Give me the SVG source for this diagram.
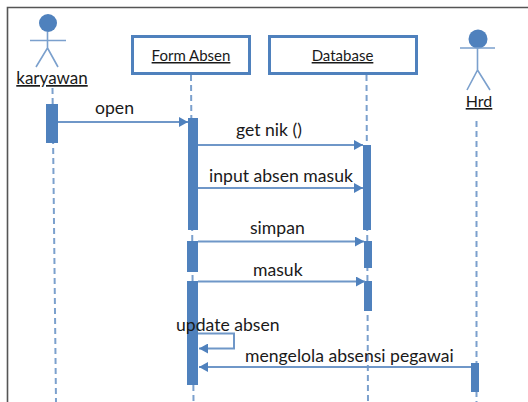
<svg xmlns="http://www.w3.org/2000/svg" width="528" height="402" viewBox="0 0 528 402">
<style>
text{font-family:Lato,Carlito,"Open Sans",sans-serif;fill:#1a1a1a}
.l{font-size:17.6px}
.h{font-size:15px;text-decoration:underline;text-anchor:middle}
.a{font-size:17px;text-decoration:underline;text-anchor:middle}
.box{fill:#fff;stroke:#4f81bd;stroke-width:3}
.ln{stroke:#7ba0cd;stroke-width:2;stroke-dasharray:6 4;fill:none}
.act{fill:#4f81bd}
.st{stroke:#7ba0cd;stroke-width:1.6;fill:none}
.msg{stroke:#6f97c8;stroke-width:2;fill:none;marker-end:url(#ah)}
</style>
<defs><marker id="ah" markerUnits="userSpaceOnUse" markerWidth="10" markerHeight="10" refX="9" refY="5" orient="auto"><path d="M0,0L9,5L0,10Z" fill="#4f81bd"/></marker></defs>
<path d="M7.5,402V7.5H528" fill="none" stroke="#555" stroke-width="1.6"/>
<g id="lifelines">
<path class="ln" d="M52.5,88L56,402"/>
<path class="ln" d="M191,75L193.5,402"/>
<path class="ln" d="M366.5,75L368,402"/>
<path class="ln" d="M476.5,121V402"/>
</g>
<g id="karyawan">
<circle cx="48" cy="23" r="9" fill="#4f81bd"/>
<path class="st" d="M30,40.500H66M47.500,32V48L36,67M47.500,48L58,67"/>
<text class="a" x="52" y="84">karyawan</text>
<rect class="act" x="46" y="104" width="12" height="39"/>
</g>
<g id="form-absen">
<rect class="box" x="132.500" y="36.500" width="117" height="37"/>
<text class="h" x="191" y="61">Form Absen</text>
<rect class="act" x="188" y="118" width="10" height="112"/>
<rect class="act" x="187" y="241" width="11" height="31"/>
<rect class="act" x="187" y="281" width="11" height="104"/>
</g>
<g id="database">
<rect class="box" x="269.500" y="36.500" width="147" height="37"/>
<text class="h" x="342.500" y="61">Database</text>
<rect class="act" x="363" y="145" width="8" height="85"/>
<rect class="act" x="364" y="241" width="8" height="27"/>
<rect class="act" x="364" y="281" width="8" height="30"/>
</g>
<g id="hrd">
<circle cx="478" cy="39" r="9.500" fill="#4f81bd"/>
<path class="st" d="M460,48H495M477.500,48V70L467,90M477.500,70L490,90"/>
<text class="h" x="479" y="107" style="font-size:16px">Hrd</text>
<rect class="act" x="471" y="363" width="8" height="29"/>
</g>
<g id="connectors">
<path class="msg" d="M58,122H188"/>
<path class="msg" d="M198,145H363"/>
<path class="msg" d="M198,188H363"/>
<path class="msg" d="M198,241.500H364"/>
<path class="msg" d="M198,281.500H365"/>
<path class="msg" d="M198,333.500H234V348.500H199"/>
<path class="msg" d="M471,367H199"/>
</g>
<g id="labels">
<text class="l" x="95" y="114">open</text>
<text class="l" x="236" y="136">get nik ()</text>
<text class="l" x="209" y="182">input absen masuk</text>
<text class="l" x="250" y="234">simpan</text>
<text class="l" x="253" y="276">masuk</text>
<text class="l" x="176" y="331">update absen</text>
<text class="l" x="245" y="362">mengelola absensi pegawai</text>
</g>
</svg>
